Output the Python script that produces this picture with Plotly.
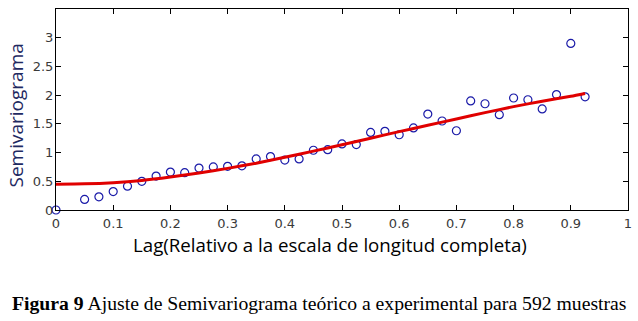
import plotly.graph_objects as go

# Experimental semivariogram (lag, value)
lag_exp = [0, 0.05, 0.075, 0.1, 0.125, 0.15, 0.175, 0.2, 0.225, 0.25, 0.275, 0.3,
           0.325, 0.35, 0.375, 0.4, 0.425, 0.45, 0.475, 0.5, 0.525, 0.55, 0.575,
           0.6, 0.625, 0.65, 0.675, 0.7, 0.725, 0.75, 0.775, 0.8, 0.825, 0.85,
           0.875, 0.9, 0.925]
gamma_exp = [0.0, 0.185, 0.23, 0.32, 0.415, 0.50, 0.59, 0.66, 0.65, 0.73, 0.75, 0.76,
             0.77, 0.89, 0.93, 0.87, 0.89, 1.04, 1.05, 1.15, 1.14, 1.35, 1.37,
             1.31, 1.43, 1.67, 1.55, 1.38, 1.90, 1.85, 1.66, 1.95, 1.92, 1.76,
             2.01, 2.90, 1.97]

# Theoretical (fitted) semivariogram
lag_fit = [0, 0.05, 0.1, 0.15, 0.2, 0.25, 0.3, 0.35, 0.4, 0.45, 0.5, 0.55, 0.6,
           0.65, 0.7, 0.75, 0.8, 0.85, 0.9, 0.925]
gamma_fit = [0.45, 0.455, 0.475, 0.515, 0.575, 0.645, 0.725, 0.815, 0.92, 1.025, 1.135,
             1.25, 1.365, 1.475, 1.585, 1.695, 1.80, 1.895, 1.98, 2.03]

x_ticks = [0, 0.1, 0.2, 0.3, 0.4, 0.5, 0.6, 0.7, 0.8, 0.9, 1]
x_tick_labels = ["0", "0.1", "0.2", "0.3", "0.4", "0.5", "0.6", "0.7", "0.8", "0.9", "1"]
y_ticks = [0, 0.5, 1, 1.5, 2, 2.5, 3]
y_tick_labels = ["0", "0.5", "1", "1.5", "2", "2.5", "3"]

fig = go.Figure()
fig.add_trace(go.Scatter(
    x=lag_exp, y=gamma_exp, mode="markers",
    marker=dict(symbol="circle-open", size=8, color="#1a1aa8", line=dict(width=1.2)),
    cliponaxis=False, showlegend=False))
fig.add_trace(go.Scatter(
    x=lag_fit, y=gamma_fit, mode="lines",
    line=dict(color="#e00000", width=3, shape="spline", smoothing=0.6),
    showlegend=False))

axis_common = dict(showline=True, linecolor="black", linewidth=1, mirror="ticks",
                   ticks="inside", ticklen=5, tickcolor="black", showgrid=False,
                   zeroline=False, automargin=False,
                   tickfont=dict(family="DejaVu Sans", size=13, color="#3a3a3a"))

fig.update_xaxes(range=[0, 1], tickvals=x_ticks, ticktext=x_tick_labels,
                 ticklabelstandoff=1, **axis_common)
fig.update_yaxes(range=[0, 3.5], tickvals=y_ticks, ticktext=y_tick_labels,
                 ticklabelstandoff=-1, **axis_common)

# x-axis title
fig.add_annotation(
    xref="paper", yref="paper", x=0.479, y=-0.17, xanchor="center", yanchor="middle",
    text="Lag(Relativo a la escala de longitud completa)", showarrow=False,
    font=dict(family="Open Sans, Liberation Sans", size=18.7, color="black"))
# y-axis title
fig.add_annotation(
    xref="paper", yref="paper", x=-0.07, y=0.47, xanchor="center", yanchor="middle",
    text="Semivariograma", textangle=-90, showarrow=False,
    font=dict(family="Open Sans, Liberation Sans", size=19, color="#1f2a62"))
# caption
fig.add_annotation(
    xref="paper", yref="paper", x=0.46, y=-0.463, xanchor="center", yanchor="middle",
    text="<b>Figura 9</b> Ajuste de Semivariograma teórico a experimental para 592 muestras",
    showarrow=False,
    font=dict(family="Liberation Serif, Times New Roman", size=19.7, color="black"))

fig.update_layout(
    width=638, height=321,
    margin=dict(l=56, r=10, t=9, b=111),
    paper_bgcolor="white", plot_bgcolor="white",
)

fig.write_html("out.html", config={"displayModeBar": False},
               post_script="document.body.style.margin='0';document.body.style.overflow='hidden';")
